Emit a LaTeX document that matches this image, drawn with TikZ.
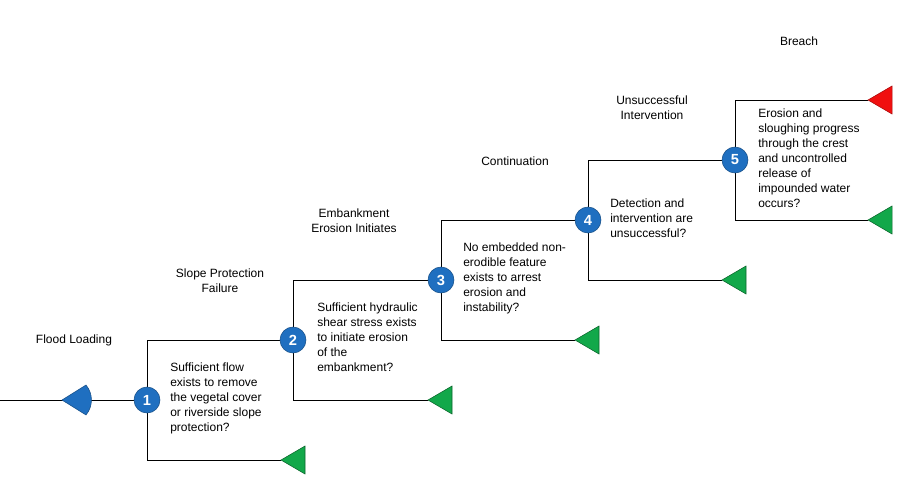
\documentclass[tikz,border=0pt]{standalone}
\usepackage{fontspec}
\setmainfont{Liberation Sans}
\begin{document}
\begin{tikzpicture}[x=0.75pt,y=-0.75pt,
  num/.style={circle,fill=nblue,draw=nblue!70!black,minimum size=19.5pt,inner sep=0,text=white,font=\bfseries\fontsize{11}{12}\selectfont},
  lbl/.style={align=center,font=\fontsize{9}{11.25}\selectfont},
  desc/.style={align=left,anchor=north west,inner sep=0,font=\fontsize{9}{11.25}\selectfont},
  gtri/.style={fill=ngreen,draw=ngreen!60!black},
  ln/.style={line width=0.7pt,black}]
\definecolor{nblue}{HTML}{1F6FC0}
\definecolor{ngreen}{HTML}{12A84A}
\definecolor{nred}{HTML}{F01010}
\useasboundingbox (0,0) rectangle (905,482);
\coordinate (s) at (0,400);
\coordinate (t1) at (281,460);
\coordinate (t2) at (428,400);
\coordinate (t3) at (575,340);
\coordinate (t4) at (722,280);
\coordinate (t5) at (868,220);
\coordinate (tb) at (868,100);
\path (147,400) coordinate (p1) (293,340) coordinate (p2) (441,280) coordinate (p3)
      (588,220) coordinate (p4) (735,160) coordinate (p5);
\draw[ln] (s) -- (p1);
\draw[ln] (p1) |- (p2); \draw[ln] (p1) |- (t1);
\draw[ln] (p2) |- (p3); \draw[ln] (p2) |- (t2);
\draw[ln] (p3) |- (p4); \draw[ln] (p3) |- (t3);
\draw[ln] (p4) |- (p5); \draw[ln] (p4) |- (t4);
\draw[ln] (p5) |- (tb); \draw[ln] (p5) |- (t5);
\foreach \n in {1,2,3,4,5} \node[num] (c\n) at (p\n) {\n};
\foreach \t in {t1,t2,t3,t4,t5}
  \draw[gtri] (\t) -- ++(24,-14) -- ++(0,28) -- cycle;
\draw[fill=nred,draw=nred!70!black] (tb) -- ++(24,-14) -- ++(0,28) -- cycle;
\draw[fill=nblue,draw=nblue!70!black] (62,400) -- (86,385) arc[start angle=-40,end angle=40,radius=23.3] -- cycle;
\node[lbl] at (74,340) {Flood Loading};
\node[lbl] at (220,281) {Slope Protection\\Failure};
\node[lbl] at (354,221) {Embankment\\Erosion Initiates};
\node[lbl] at (515,161) {Continuation};
\node[lbl] at (652,108) {Unsuccessful\\Intervention};
\node[lbl] at (799,41) {Breach};
\node[desc] at (170,363) {Sufficient flow\\exists to remove\\the vegetal cover\\or riverside slope\\protection?};
\node[desc] at (317,303) {Sufficient hydraulic\\shear stress exists\\to initiate erosion\\of the\\embankment?};
\node[desc] at (463,243) {No embedded non-\\erodible feature\\exists to arrest\\erosion and\\instability?};
\node[desc] at (610,199) {Detection and\\intervention are\\unsuccessful?};
\node[desc] at (758,109) {Erosion and\\sloughing progress\\through the crest\\and uncontrolled\\release of\\impounded water\\occurs?};
\end{tikzpicture}
\end{document}
